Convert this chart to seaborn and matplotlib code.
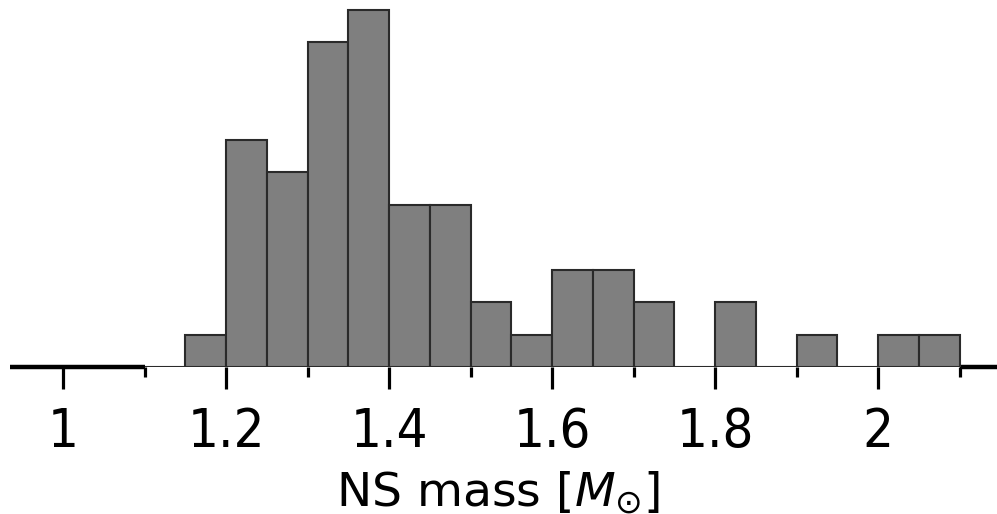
import numpy as np
import pandas as pd
import matplotlib
matplotlib.use("Agg")
import matplotlib.pyplot as plt
import seaborn as sns

# --- data ---
bin_edges = [1.10, 1.15, 1.20, 1.25, 1.30, 1.35, 1.40, 1.45, 1.50, 1.55, 1.60,
             1.65, 1.70, 1.75, 1.80, 1.85, 1.90, 1.95, 2.00, 2.05, 2.10]
bin_centers = [1.125, 1.175, 1.225, 1.275, 1.325, 1.375, 1.425, 1.475, 1.525, 1.575,
               1.625, 1.675, 1.725, 1.775, 1.825, 1.875, 1.925, 1.975, 2.025, 2.075]
counts = [0, 1, 7, 6, 10, 11, 5, 5, 2, 1, 3, 3, 2, 0, 2, 0, 1, 0, 1, 1]
major_ticks = [1.0, 1.2, 1.4, 1.6, 1.8, 2.0]
major_labels = ["1", "1.2", "1.4", "1.6", "1.8", "2"]
minor_ticks = [1.1, 1.3, 1.5, 1.7, 1.9, 2.1]
xlabel = "NS mass [$M_{\\odot}$]"

df = pd.DataFrame({"mass": bin_centers, "count": counts})

sns.set_style("white")
plt.rcParams["font.family"] = ["DejaVu Sans"]
plt.rcParams["mathtext.fontset"] = "dejavusans"
plt.rcParams["text.color"] = "black"
plt.rcParams["xtick.color"] = "black"
plt.rcParams["axes.labelcolor"] = "black"

W, H = 997, 514
fig = plt.figure(figsize=(W / 100, H / 100), dpi=100)
ax = fig.add_axes([0, (H - 367) / H, 1, 367 / H])

sns.histplot(data=df, x="mass", weights="count", bins=bin_edges, ax=ax,
             color="#7f7f7f", alpha=1.0, edgecolor="#2a2a2a", linewidth=1.5,
             zorder=3)

x0 = 1 - 63 / 815
x1 = 1 + 934 / 815
ax.set_xlim(x0, x1)
ax.set_ylim(0, 367 / 32.5)

for s in ["left", "right", "top", "bottom"]:
    ax.spines[s].set_visible(False)

# baseline: thick outside the histogram range, thin inside
ax.hlines(0, 1 - 53 / 815, bin_edges[0], color="black", lw=3.2, zorder=2,
          clip_on=False)
ax.hlines(0, bin_edges[-1], x1, color="black", lw=3.2, zorder=2, clip_on=False)
ax.hlines(0, bin_edges[0], bin_edges[-1], color="black", lw=1.3, zorder=2)

ax.set_xticks(major_ticks)
ax.set_xticklabels(major_labels, fontstretch="condensed")
ax.set_xticks(minor_ticks, minor=True)
ax.tick_params(axis="x", which="major", direction="out", length=16, width=2.3,
               color="black", labelsize=39, pad=12, bottom=True,
               labelcolor="black")
ax.tick_params(axis="x", which="minor", direction="out", length=7, width=2.3,
               color="black", bottom=True)
ax.set_yticks([])
ax.set_ylabel("")
ax.set_xlabel(xlabel, fontsize=34, labelpad=8, color="black")

fig.savefig("out.png", dpi=100, facecolor="white")
